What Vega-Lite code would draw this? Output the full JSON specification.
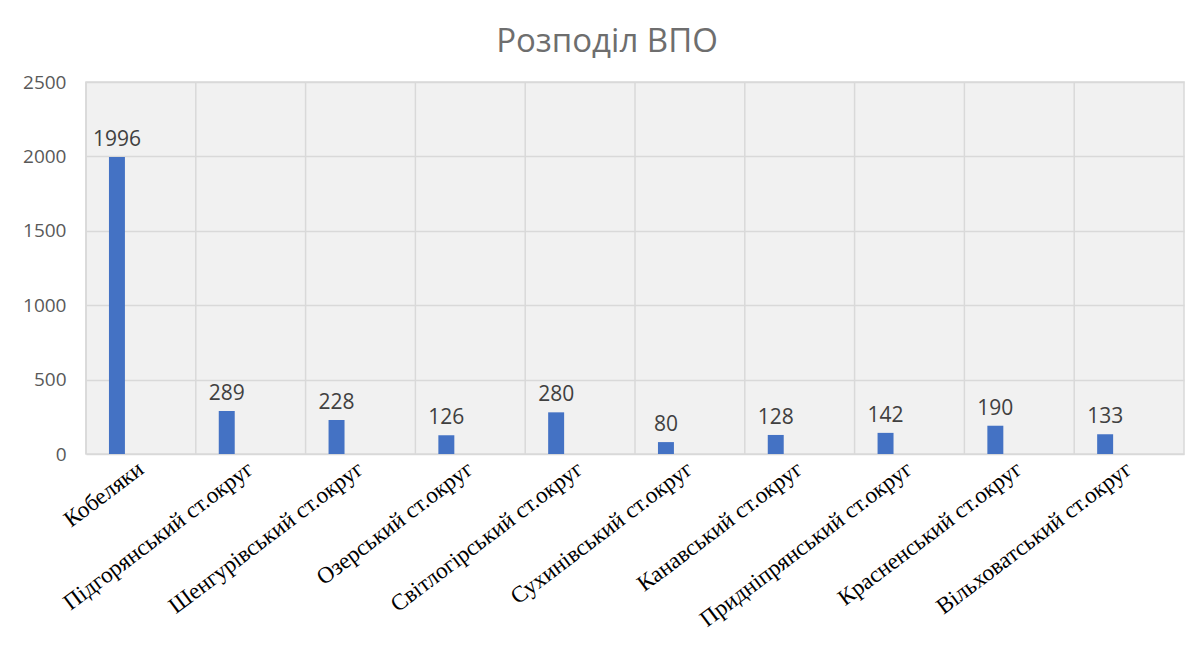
{
  "$schema": "https://vega.github.io/schema/vega-lite/v6.json",
  "width": 1098,
  "height": 372,
  "autosize": {"type": "none"},
  "padding": {"left": 86, "top": 82, "right": 17, "bottom": 204},
  "background": "white",
  "title": {
    "text": "Розподіл  ВПО",
    "font": "Open Sans",
    "fontSize": 33,
    "fontWeight": "normal",
    "color": "#6e6e6e",
    "anchor": "middle",
    "dx": -28,
    "offset": 14
  },
  "data": {
    "values": [
      {"район": "Кобеляки", "серія": "ВПО", "кількість": 1996},
      {"район": "Підгорянський  ст.округ", "серія": "ВПО", "кількість": 289},
      {"район": "Шенгурівський  ст.округ", "серія": "ВПО", "кількість": 228},
      {"район": "Озерський  ст.округ", "серія": "ВПО", "кількість": 126},
      {"район": "Світлогірський  ст.округ", "серія": "ВПО", "кількість": 280},
      {"район": "Сухинівський  ст.округ", "серія": "ВПО", "кількість": 80},
      {"район": "Канавський  ст.округ", "серія": "ВПО", "кількість": 128},
      {"район": "Придніпрянський  ст.округ", "серія": "ВПО", "кількість": 142},
      {"район": "Красненський  ст.округ", "серія": "ВПО", "кількість": 190},
      {"район": "Вільховатський  ст.округ", "серія": "ВПО", "кількість": 133}
    ]
  },
  "encoding": {
    "x": {
      "field": "район",
      "type": "nominal",
      "sort": null,
      "scale": {"paddingInner": 0, "paddingOuter": 0},
      "axis": {
        "title": null,
        "grid": false,
        "domain": false,
        "ticks": false,
        "labelAngle": -37,
        "labelAlign": "right",
        "labelBaseline": "middle",
        "labelFont": "Liberation Serif",
        "labelFontSize": 23,
        "labelColor": "#000000",
        "labelPadding": 12,
        "labelLimit": 0
      }
    }
  },
  "layer": [
    {
      "mark": {"type": "rule", "color": "#d9d9d9", "strokeWidth": 1.5},
      "encoding": {
        "x": {"field": "район", "type": "nominal", "sort": null, "bandPosition": 0}
      }
    },
    {
      "mark": {"type": "bar", "color": "#4472C4"},
      "encoding": {
        "xOffset": {
          "field": "серія",
          "scale": {"domain": ["s0", "ВПО", "s2", "s3", "s4", "s5"], "paddingInner": 0, "paddingOuter": 0.4375}
        },
        "y": {
          "field": "кількість",
          "type": "quantitative",
          "scale": {"domain": [0, 2500], "nice": false},
          "axis": {
            "title": null,
            "values": [0, 500, 1000, 1500, 2000, 2500],
            "format": "d",
            "domain": false,
            "ticks": false,
            "grid": true,
            "gridColor": "#d9d9d9",
            "gridWidth": 1.5,
            "labelFont": "Open Sans",
            "labelFontSize": 19,
            "labelColor": "#595959",
            "labelPadding": 20
          }
        }
      }
    },
    {
      "mark": {
        "type": "text",
        "baseline": "bottom",
        "dy": -7,
        "font": "Open Sans",
        "fontSize": 21,
        "color": "#404040"
      },
      "encoding": {
        "xOffset": {
          "field": "серія",
          "scale": {"domain": ["s0", "ВПО", "s2", "s3", "s4", "s5"], "paddingInner": 0, "paddingOuter": 0.4375}
        },
        "y": {"field": "кількість", "type": "quantitative"},
        "text": {"field": "кількість", "type": "quantitative"}
      }
    }
  ],
  "config": {
    "view": {"fill": "#f1f1f1", "stroke": "#d9d9d9", "strokeWidth": 1.5}
  }
}
